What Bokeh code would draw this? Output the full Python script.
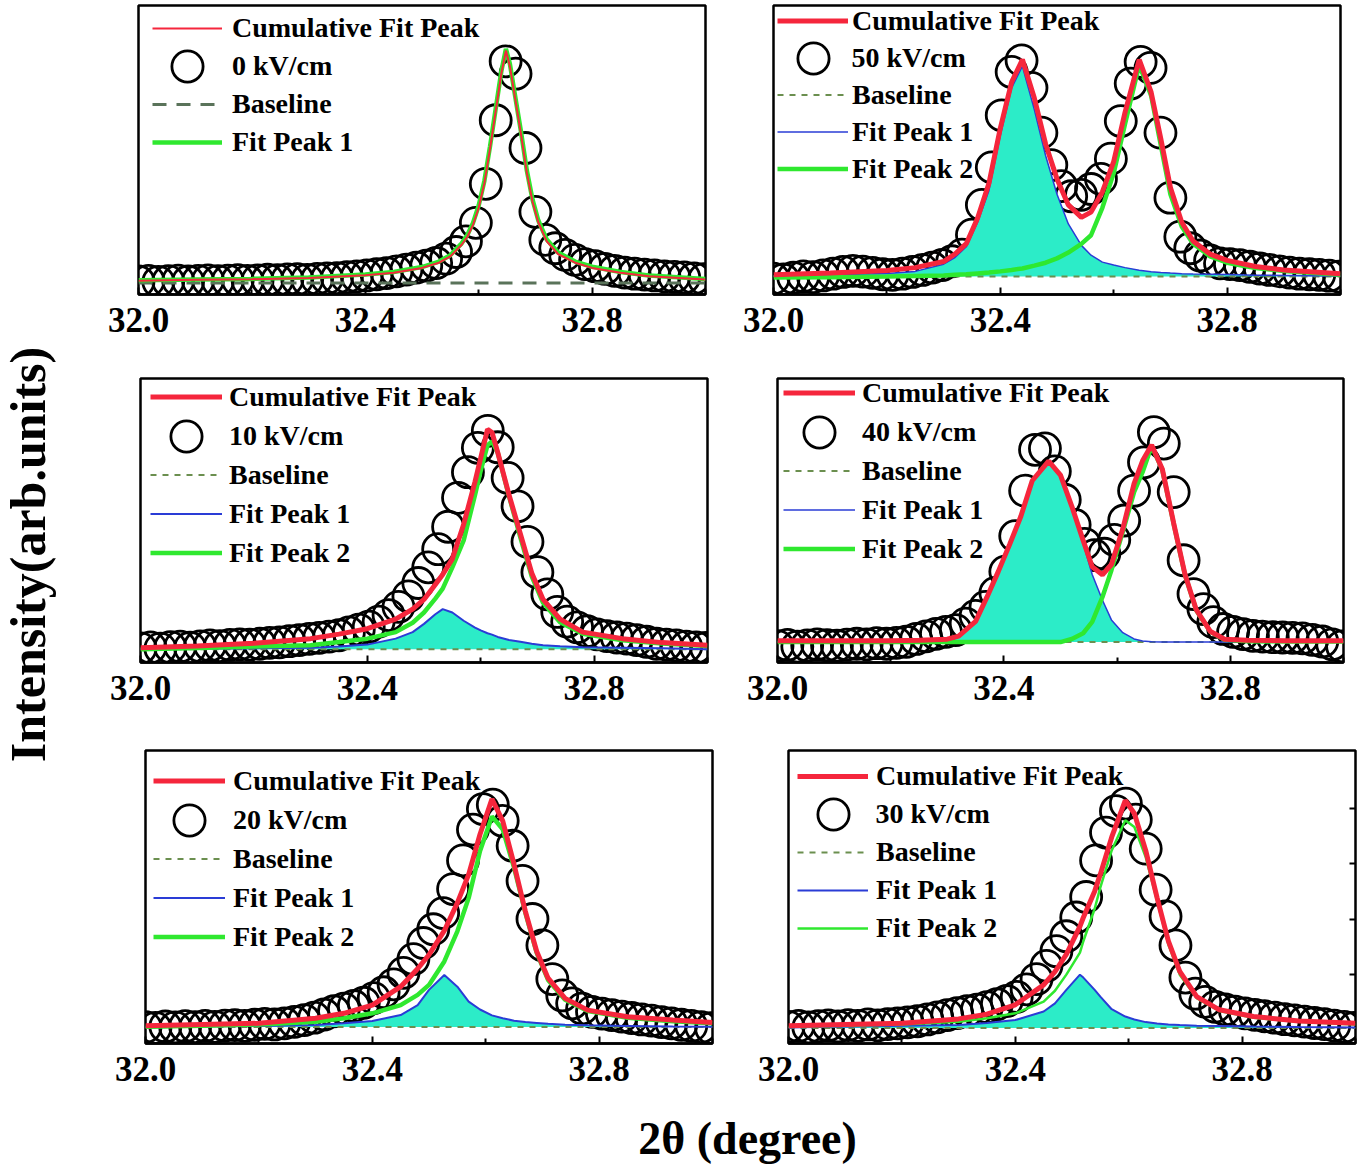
import math
from bokeh.plotting import figure
from bokeh.models import Range1d, FixedTicker, PrintfTickFormatter, Legend, LegendItem, LinearAxis, Label
from bokeh.layouts import row, column
from bokeh.embed import file_html
from bokeh.resources import INLINE
from bokeh.core.properties import value

# ---------------- data ----------------
X_MIN, X_MAX = 32.0, 33.0
Y_MIN, Y_MAX = 0.0, 100.0
major_ticks = [32.0, 32.4, 32.8]
minor_ticks = [32.2, 32.6, 33.0]
right_ticks_30 = [23.5, 42.4, 61.3, 80.2]

two_theta = [32.0000, 32.0175, 32.0350, 32.0525, 32.0700, 32.0875, 32.1050, 32.1225, 32.1400, 32.1575,
             32.1750, 32.1925, 32.2100, 32.2275, 32.2450, 32.2625, 32.2800, 32.2975, 32.3150, 32.3325,
             32.3500, 32.3675, 32.3850, 32.4025, 32.4200, 32.4375, 32.4550, 32.4725, 32.4900, 32.5075,
             32.5250, 32.5425, 32.5600, 32.5775, 32.5950, 32.6125, 32.6300, 32.6475, 32.6650, 32.6825,
             32.7000, 32.7175, 32.7350, 32.7525, 32.7700, 32.7875, 32.8050, 32.8225, 32.8400, 32.8575,
             32.8750, 32.8925, 32.9100, 32.9275, 32.9450, 32.9625, 32.9800, 32.9975]

# 0 kV/cm
obs_0 = [4.5, 4.7, 4.4, 4.6, 4.8, 4.5, 4.7, 4.9, 4.6, 4.8,
         5.0, 4.7, 4.9, 5.1, 5.0, 5.2, 5.3, 5.1, 5.4, 5.6,
         5.7, 6.0, 6.3, 6.6, 7.0, 7.4, 8.0, 8.6, 9.3, 10.0,
         10.9, 12.4, 14.7, 18.4, 24.8, 38.3, 60.3, 80.7, 76.4, 50.7,
         28.6, 18.9, 16.0, 13.7, 12.0, 10.5, 9.8, 8.9, 8.2, 7.6,
         7.2, 6.9, 6.6, 6.3, 6.1, 5.9, 5.6, 5.3]
fit_x_0 = [32.0, 32.1, 32.2, 32.3, 32.4, 32.45, 32.5, 32.53, 32.55, 32.57, 32.58, 32.59, 32.6, 32.61, 32.62,
           32.63, 32.64, 32.648, 32.655, 32.665, 32.675, 32.685, 32.695, 32.705, 32.72, 32.74, 32.77, 32.8,
           32.85, 32.9, 33.0]
cum_0 = [4.8, 5.1, 5.3, 5.7, 6.7, 7.5, 9.2, 11.0, 13.2, 17.2, 20.0, 24.1, 30.0, 38.5, 50.5,
         63.5, 76.5, 84.4, 79.0, 67.0, 55.0, 42.0, 32.0, 25.0, 18.4, 14.0, 11.0, 9.2, 7.5, 6.3, 5.2]
peak1_0 = [4.9, 5.2, 5.4, 5.9, 6.9, 7.8, 9.5, 11.4, 13.6, 17.7, 20.6, 24.8, 30.8, 39.3, 51.3,
           64.3, 77.3, 85.0, 79.8, 67.8, 55.8, 42.8, 32.8, 25.7, 19.0, 14.5, 11.4, 9.6, 7.8, 6.6, 5.4]
base_0 = 4.0

# 50 kV/cm
obs_50 = [5.5, 5.2, 5.8, 6.3, 6.0, 6.6, 7.2, 7.8, 8.2, 7.9,
          7.5, 7.0, 6.8, 7.2, 7.8, 8.5, 9.3, 10.2, 11.5, 13.8,
          20.7, 31.0, 44.0, 62.0, 77.0, 81.0, 71.5, 56.0, 44.8, 37.5,
          34.0, 34.5, 36.5, 40.0, 47.0, 60.0, 73.0, 80.5, 78.4, 56.0,
          33.5, 20.0, 16.0, 13.5, 11.8, 10.8, 10.5, 10.2, 9.6, 9.0,
          8.5, 8.0, 7.6, 7.2, 7.0, 6.8, 6.5, 6.2]
fit_x_50 = [32.0, 32.1, 32.2, 32.25, 32.3, 32.32, 32.34, 32.36, 32.38, 32.4, 32.42, 32.439, 32.46, 32.48,
            32.5, 32.52, 32.543, 32.56, 32.58, 32.6, 32.62, 32.645, 32.666, 32.683, 32.7, 32.72, 32.74,
            32.77, 32.8, 32.85, 32.9, 33.0]
cum_50 = [6.8, 7.4, 8.3, 9.3, 11.4, 14.0, 17.6, 26.5, 38.5, 57.5, 73.5, 81.3, 68.0, 52.0,
          40.0, 31.0, 26.7, 28.5, 35.5, 46.0, 63.0, 81.3, 70.0, 54.0, 37.0, 25.0, 18.5,
          14.0, 11.8, 9.7, 8.5, 7.2]
peak1_50 = [6.5, 6.8, 7.3, 8.0, 10.5, 12.8, 16.5, 25.0, 36.0, 55.0, 71.5, 79.0, 64.0, 48.0,
            34.7, 24.4, 17.0, 13.6, 11.2, 10.2, 9.3, 8.4, 7.9, 7.6, 7.4, 7.2, 7.1,
            7.0, 6.9, 6.7, 6.6, 6.4]
peak2_50 = [5.9, 6.0, 6.2, 6.4, 6.6, 6.8, 7.0, 7.3, 7.6, 8.0, 8.5, 9.0, 10.0, 11.0,
            12.5, 14.5, 17.5, 20.5, 30.0, 42.0, 59.0, 79.5, 68.8, 51.7, 34.7, 23.5, 17.6,
            13.2, 11.0, 9.2, 8.1, 6.8]
base_50 = 6.25

# 10 kV/cm
obs_10 = [5.0, 5.3, 4.9, 5.4, 5.6, 5.2, 5.7, 6.0, 5.8, 6.2,
          6.4, 6.3, 6.6, 6.9, 7.1, 7.5, 7.9, 8.3, 8.7, 9.1,
          9.6, 10.6, 11.6, 12.6, 14.4, 16.7, 19.6, 23.3, 28.0, 33.5,
          39.9, 47.8, 58.0, 67.0, 75.6, 81.6, 75.8, 65.0, 55.0, 42.5,
          31.8, 24.0, 17.8, 14.4, 12.4, 11.0, 9.9, 9.3, 8.8, 8.4,
          7.9, 7.3, 6.6, 6.3, 6.0, 5.6, 5.3, 5.1]
fit_x_10 = [32.0, 32.1, 32.2, 32.3, 32.35, 32.4, 32.45, 32.48, 32.5, 32.52, 32.533, 32.55, 32.57, 32.59,
            32.6, 32.612, 32.62, 32.63, 32.65, 32.67, 32.69, 32.71, 32.74, 32.78, 32.85, 32.92, 33.0]
cum_10 = [5.2, 5.8, 6.8, 8.4, 10.0, 11.9, 15.3, 18.8, 22.2, 27.5, 31.0, 36.5, 48.7, 63.7,
          72.0, 82.1, 81.0, 74.0, 59.0, 45.3, 31.5, 22.2, 15.3, 10.7, 8.4, 7.0, 6.1]
peak1_10 = [4.7, 4.8, 5.0, 5.2, 5.6, 6.3, 8.4, 10.7, 13.6, 17.0, 18.8, 17.6, 14.7, 12.3,
            11.3, 10.3, 9.8, 9.0, 7.9, 7.3, 6.6, 6.1, 5.7, 5.4, 5.2, 5.0, 4.7]
peak2_10 = [4.7, 5.1, 5.6, 6.1, 7.2, 8.4, 10.7, 14.0, 17.6, 22.5, 26.0, 33.5, 43.0, 59.0,
            67.5, 76.5, 77.8, 74.0, 58.5, 44.0, 30.3, 21.0, 14.2, 10.1, 7.8, 6.7, 5.8]
base_10 = 4.7

# 40 kV/cm
obs_40 = [5.8, 6.2, 5.6, 6.0, 6.4, 6.1, 5.9, 6.3, 6.6, 6.4,
          6.8, 6.6, 6.9, 7.3, 8.3, 9.2, 10.1, 10.8, 11.4, 13.7,
          16.4, 19.6, 24.5, 32.0, 44.5, 60.5, 74.9, 75.4, 67.3, 57.3,
          48.5, 41.8, 37.8, 38.3, 43.2, 50.0, 60.5, 70.5, 81.1, 77.1,
          60.0, 36.0, 24.1, 18.8, 14.2, 11.8, 10.8, 10.0, 9.4, 9.1,
          8.9, 8.8, 8.7, 8.5, 8.0, 7.4, 6.4, 5.7]
fit_x_40 = [32.0, 32.1, 32.2, 32.25, 32.3, 32.32, 32.35, 32.37, 32.39, 32.41, 32.43, 32.45, 32.479, 32.5,
            32.52, 32.54, 32.556, 32.574, 32.59, 32.61, 32.63, 32.645, 32.661, 32.68, 32.7, 32.72, 32.74,
            32.765, 32.79, 32.83, 32.9, 33.0]
cum_40 = [7.7, 7.7, 7.7, 7.8, 8.2, 9.3, 14.5, 23.0, 32.0, 41.5, 51.5, 64.0, 70.9, 66.0,
          55.0, 43.0, 33.7, 30.9, 34.5, 47.0, 63.0, 71.0, 76.6, 68.0, 49.0, 31.0, 18.5,
          10.9, 8.2, 7.8, 7.7, 7.7]
peak1_40 = [7.2, 7.2, 7.2, 7.2, 7.4, 9.0, 14.2, 22.7, 31.7, 41.2, 51.2, 63.7, 70.6, 65.5,
            55.0, 42.0, 31.0, 22.0, 15.0, 10.5, 8.3, 7.6, 7.3, 7.2, 7.2, 7.2, 7.2,
            7.2, 7.2, 7.2, 7.2, 7.2]
peak2_40 = [7.2, 7.2, 7.2, 7.2, 7.2, 7.2, 7.2, 7.2, 7.2, 7.2, 7.2, 7.2, 7.2, 7.2,
            8.3, 10.3, 14.3, 23.0, 32.5, 46.0, 60.0, 67.0, 76.2, 67.8, 48.8, 30.8, 18.3,
            10.8, 8.0, 7.5, 7.4, 7.4]
base_40 = 7.2

# 20 kV/cm
obs_20 = [5.6, 5.3, 5.8, 5.5, 5.9, 5.6, 6.0, 5.7, 6.1, 6.3,
          6.0, 6.4, 6.7, 6.5, 6.9, 7.4, 8.0, 8.8, 9.9, 11.0,
          11.9, 12.8, 13.9, 15.5, 17.5, 20.2, 24.1, 28.8, 34.3, 39.0,
          44.5, 52.7, 62.5, 73.0, 80.0, 81.5, 76.0, 67.5, 55.5, 42.5,
          33.5, 22.0, 16.4, 13.7, 11.9, 10.8, 10.2, 9.7, 9.2, 8.7,
          8.2, 7.8, 7.3, 6.9, 6.4, 6.0, 5.6, 5.2]
fit_x_20 = [32.0, 32.1, 32.2, 32.3, 32.35, 32.4, 32.45, 32.48, 32.5, 32.527, 32.55, 32.57, 32.59, 32.611,
            32.63, 32.65, 32.67, 32.69, 32.71, 32.74, 32.78, 32.85, 32.93, 33.0]
cum_20 = [6.1, 6.5, 6.9, 8.6, 10.3, 13.1, 19.4, 25.5, 30.3, 38.5, 48.0, 57.7, 71.4, 83.4,
          76.0, 61.1, 45.1, 31.4, 22.3, 15.4, 11.4, 9.1, 8.0, 7.2]
peak1_20 = [5.5, 5.8, 6.0, 6.3, 6.9, 7.7, 9.7, 13.1, 18.3, 23.4, 19.4, 14.3, 11.6, 9.6,
            8.6, 7.8, 7.3, 7.0, 6.7, 6.4, 6.2, 6.0, 5.8, 5.7]
peak2_20 = [5.7, 6.1, 6.5, 7.4, 8.6, 10.3, 13.1, 16.6, 20.0, 28.0, 38.3, 49.7, 65.7, 77.5,
            73.1, 60.0, 44.6, 30.9, 21.7, 14.9, 11.1, 8.8, 7.6, 6.9]
base_20 = 5.6

# 30 kV/cm
obs_30 = [5.7, 6.0, 5.5, 5.9, 6.2, 5.8, 6.3, 6.0, 6.5, 6.2,
          6.6, 6.9, 7.2, 7.6, 8.2, 8.9, 9.7, 10.4, 11.0, 11.6,
          12.4, 13.4, 14.5, 15.9, 18.5, 22.0, 26.5, 31.5, 36.6, 43.0,
          50.0, 62.5, 72.0, 79.3, 81.9, 76.4, 66.5, 52.5, 43.4, 33.5,
          22.5, 17.0, 14.2, 12.5, 11.6, 10.9, 10.3, 9.8, 9.3, 8.8,
          8.3, 7.9, 7.5, 7.0, 6.6, 6.1, 5.7, 5.3]
fit_x_30 = [32.0, 32.1, 32.2, 32.3, 32.35, 32.4, 32.45, 32.47, 32.49, 32.514, 32.52, 32.54, 32.55, 32.57,
            32.594, 32.61, 32.63, 32.65, 32.67, 32.69, 32.72, 32.76, 32.82, 32.9, 33.0]
cum_30 = [6.1, 6.5, 6.9, 8.4, 10.0, 13.2, 20.0, 24.5, 30.4, 40.0, 43.0, 52.0, 57.8, 70.4,
          83.0, 78.5, 65.9, 49.8, 34.9, 24.6, 16.0, 11.5, 9.2, 7.7, 6.9]
peak1_30 = [5.5, 5.8, 6.1, 6.3, 7.0, 8.0, 10.9, 13.7, 18.3, 23.5, 22.5, 18.3, 16.0, 11.7,
            9.2, 8.2, 7.3, 6.8, 6.5, 6.3, 6.1, 6.0, 5.8, 5.6, 5.5]
peak2_30 = [5.7, 6.1, 6.5, 7.4, 8.6, 10.3, 14.3, 18.0, 23.5, 31.0, 34.9, 46.0, 53.3, 65.9,
            76.2, 73.9, 63.6, 48.7, 33.8, 23.5, 15.5, 11.1, 8.8, 7.4, 6.5]
base_30 = 5.3

field_labels = ["0 kV/cm", "50 kV/cm", "10 kV/cm", "40 kV/cm", "20 kV/cm", "30 kV/cm"]
legend_cum = "Cumulative Fit Peak"
legend_base = "Baseline"
legend_p1 = "Fit Peak 1"
legend_p2 = "Fit Peak 2"
y_title = "Intensity(arb.units)"
x_title = "2\u03b8 (degree)"
stray_mark = "A"

# ---------------- styling ----------------
SERIF = "Liberation Serif"
RED = "#f5263c"
GREEN = "#2fe82f"
BLUE = "#2a3cd6"
FILL = "#2cecc8"
MARKER_SIZE = 31
MARKER_BOX = 78   # legend glyph box giving the same marker size (0.4 * box)


def make_panel(w, h, bl, br, bt, bb):
    p = figure(width=w, height=h, x_range=Range1d(X_MIN, X_MAX), y_range=Range1d(Y_MIN, Y_MAX),
               output_backend="svg", toolbar_location=None, title=None,
               min_border_left=bl, min_border_right=br, min_border_top=bt, min_border_bottom=bb,
               y_axis_location=None)
    p.grid.visible = False
    p.outline_line_color = "black"
    p.outline_line_width = 2.5
    p.outline_line_alpha = 1.0
    p.background_fill_color = "white"
    p.border_fill_color = "white"
    ax = p.xaxis[0]
    ax.ticker = FixedTicker(ticks=major_ticks, minor_ticks=minor_ticks)
    ax.formatter = PrintfTickFormatter(format="%.1f")
    ax.axis_line_width = 2.5
    ax.axis_line_color = "black"
    ax.major_tick_in = 7
    ax.major_tick_out = 0
    ax.minor_tick_in = 5
    ax.minor_tick_out = 0
    ax.major_tick_line_width = 2
    ax.minor_tick_line_width = 2
    ax.major_label_text_font = SERIF
    ax.major_label_text_font_style = "bold"
    ax.major_label_text_font_size = "35px"
    ax.major_label_text_color = "black"
    ax.major_label_standoff = 13
    return p


def legend_box(items, loc, gw, gh, st):
    return Legend(items=items, location=loc, orientation="vertical",
                  glyph_width=gw, glyph_height=gh, label_height=gh, spacing=0, padding=0,
                  margin=0, label_standoff=st, border_line_color=None, background_fill_alpha=0.0,
                  label_text_font=SERIF, label_text_font_style="bold", label_text_font_size="28px",
                  label_text_color="black")


def build(geom, label, obs, fx, cum, base, p1, p2, widths, leg):
    w, h, bl, br, bt, bb = geom
    p = make_panel(w, h, bl, br, bt, bb)
    frame_h = h - bt - bb
    red_w, blue_w, green_w, base_style = widths
    circ = p.scatter(two_theta, obs, marker="circle", size=MARKER_SIZE, fill_color=None,
                     line_color="black", line_width=2.8)
    if p2 is not None:
        p.varea(x=fx, y1=base, y2=p1, fill_color=FILL, fill_alpha=1.0)
    bcol, bdash, bw = base_style
    r_base = p.line([X_MIN, X_MAX], [base, base], line_color=bcol, line_dash=bdash, line_width=bw)
    if p2 is not None:
        r_p1 = p.line(fx, p1, line_color=BLUE, line_width=blue_w)
        r_p2 = p.line(fx, p2, line_color=GREEN, line_width=green_w)
    else:
        r_p1 = p.line(fx, p1, line_color=GREEN, line_width=green_w)
        r_p2 = None
    r_cum = p.line(fx, cum, line_color=RED, line_width=red_w)

    lx, ltop, rowh, gw, st = leg
    # first row: cumulative fit
    top_items = [LegendItem(label=legend_cum, renderers=[r_cum])]
    p.add_layout(legend_box(top_items, (lx, frame_h - ltop - rowh), gw, rowh, st))
    # second row: measured data (own box so the marker keeps its size)
    mid_items = [LegendItem(label=label, renderers=[circ])]
    mid_center = ltop + 1.5 * rowh
    mx = lx + gw / 2 - MARKER_BOX / 2
    mst = (lx + gw + st) - (mx + MARKER_BOX)
    p.add_layout(legend_box(mid_items, (mx, frame_h - (mid_center - MARKER_BOX / 2) - MARKER_BOX),
                            MARKER_BOX, MARKER_BOX, int(round(mst))))
    # remaining rows
    rest = [LegendItem(label=legend_base, renderers=[r_base]),
            LegendItem(label=legend_p1, renderers=[r_p1])]
    if r_p2 is not None:
        rest.append(LegendItem(label=legend_p2, renderers=[r_p2]))
    rtop = ltop + 2 * rowh
    p.add_layout(legend_box(rest, (lx, frame_h - rtop - len(rest) * rowh), gw, rowh, st))
    return p


dash_dark = ("#5a735a", "14 10", 3)
dash_light = ("#6b8f4f", "6 6", 2)

# geometry: (width, height, border_left, border_right, border_top, border_bottom)
f1 = build((672, 362, 70, 35, 3, 68), field_labels[0], obs_0, fit_x_0, cum_0, base_0, peak1_0, None,
           (2, 0, 4.5, dash_dark), (14, 6, 38, 70, 10))
f2 = build((618, 362, 33, 18, 5, 64), field_labels[1], obs_50, fit_x_50, cum_50, base_50, peak1_50, peak2_50,
           (5, 1.5, 4.5, dash_light), (4, 1, 37, 71, 4))
f3 = build((672, 370, 72, 33, 16, 65), field_labels[2], obs_10, fit_x_10, cum_10, base_10, peak1_10, peak2_10,
           (5, 2, 4.5, dash_light), (10, 4, 39, 72, 7))
f4 = build((618, 370, 37, 15, 10, 70), field_labels[3], obs_40, fit_x_40, cum_40, base_40, peak1_40, peak2_40,
           (5, 1.5, 4.5, dash_light), (6, 1, 39, 72, 7))
f5 = build((672, 375, 77, 28, 18, 64), field_labels[4], obs_20, fit_x_20, cum_20, base_20, peak1_20, peak2_20,
           (5, 2, 4.5, dash_light), (8, 11, 39, 72, 8))
f6 = build((619, 375, 48, 4, 18, 64), field_labels[5], obs_30, fit_x_30, cum_30, base_30, peak1_30, peak2_30,
           (5, 2, 2.5, dash_light), (9, 7, 38, 71, 8))

rax = LinearAxis(ticker=FixedTicker(ticks=right_ticks_30, minor_ticks=[]), axis_line_color=None,
                 major_tick_in=6, major_tick_out=0, major_tick_line_width=2, major_label_standoff=0,
                 major_label_text_font_size="0px", major_label_text_alpha=0.0)
f6.add_layout(rax, "right")

# small stray glyph printed above the 20 kV/cm panel in the source figure
f5.add_layout(Label(x=278, y=306, x_units="screen", y_units="screen", text=stray_mark,
                    text_font_size="10px", text_color="#333333", text_font="Liberation Sans",
                    text_align="center", text_baseline="middle"))


def text_fig(w, h):
    f = figure(width=w, height=h, x_range=Range1d(0, w), y_range=Range1d(0, h), output_backend="svg",
               toolbar_location=None, title=None, min_border=0, x_axis_location=None, y_axis_location=None)
    f.grid.visible = False
    f.outline_line_color = None
    return f


yfig = text_fig(68, 1165)
yfig.text(x=[27], y=[611], text=[y_title], angle=math.pi / 2, text_align="center", text_baseline="middle",
          text_font=value(SERIF), text_font_style="bold", text_font_size="50px", text_color="black")

xfig = text_fig(1290, 58)
xfig.text(x=[679], y=[27], text=[x_title], text_align="center", text_baseline="middle",
          text_font=value(SERIF), text_font_style="bold", text_font_size="46px", text_color="black")

layout = row(yfig, column(row(f1, f2), row(f3, f4), row(f5, f6), xfig))

open("out.html", "w").write(file_html(layout, INLINE))
